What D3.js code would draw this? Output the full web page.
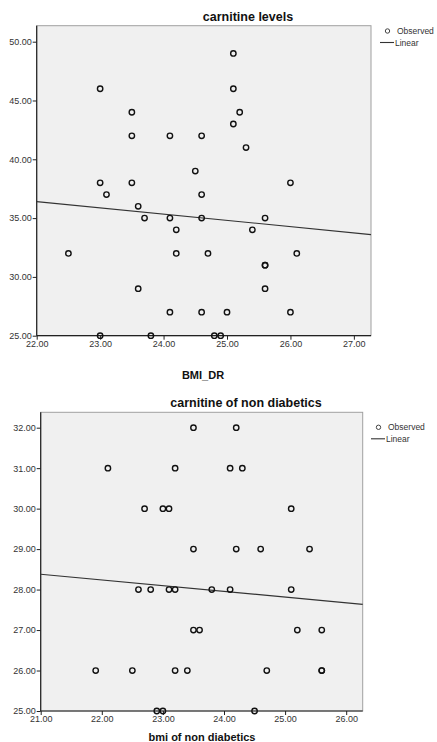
<!DOCTYPE html>
<html>
<head>
<meta charset="utf-8">
<script src="https://cdn.jsdelivr.net/npm/d3@7"></script>
<style>
  body { margin: 0; background: #fff; }
  svg { display: block; font-family: "Liberation Sans", Arial, sans-serif; }
</style>
</head>
<body>
<div id="chart"></div>
<script>
// carnitine levels (BMI_DR)
var bmi_dr = [25.1, 23.0, 25.1, 23.5, 25.2, 25.1, 23.5, 24.1, 24.6, 25.3, 24.5, 23.0, 23.5, 26.0,
              23.1, 24.6, 23.6, 23.7, 24.1, 24.6, 25.6, 24.2, 25.4, 22.5, 24.2, 24.7, 26.1, 25.6,
              25.6, 23.6, 25.6, 24.1, 24.6, 25.0, 26.0, 23.0, 23.8, 24.8, 24.9];
var carnitine_dr = [49, 46, 46, 44, 44, 43, 42, 42, 42, 41, 39, 38, 38, 38,
                    37, 37, 36, 35, 35, 35, 35, 34, 34, 32, 32, 32, 32, 31,
                    31, 29, 29, 27, 27, 27, 27, 25, 25, 25, 25];
var fit_dr = {intercept: 48.13, slope: -0.533};

// carnitine of non diabetics
var bmi_nd = [23.5, 24.2, 22.1, 23.2, 24.1, 24.3, 22.7, 23.0, 23.1, 25.1, 23.5, 24.2, 24.6, 25.4,
              22.6, 22.8, 23.1, 23.2, 23.8, 24.1, 25.1, 23.5, 23.6, 25.2, 25.6, 21.9, 22.5, 23.2,
              23.4, 24.7, 25.6, 25.6, 22.9, 23.0, 24.5];
var carnitine_nd = [32, 32, 31, 31, 31, 31, 30, 30, 30, 30, 29, 29, 29, 29,
                    28, 28, 28, 28, 28, 28, 28, 27, 27, 27, 27, 26, 26, 26,
                    26, 26, 26, 26, 25, 25, 25];
var fit_nd = {intercept: 31.35, slope: -0.1414};

var xticks_dr = [22, 23, 24, 25, 26, 27],
    yticks_dr = [25, 30, 35, 40, 45, 50];
var xticks_nd = [21, 22, 23, 24, 25, 26],
    yticks_nd = [25, 26, 27, 28, 29, 30, 31, 32];

var width = 437, height = 742;

var svg = d3.select("#chart")
  .append("svg")
  .attr("width", width)
  .attr("height", height);

function scatter(opt){
  var x = d3.scaleLinear().domain(opt.xdomain).range([opt.left, opt.right]);
  var y = d3.scaleLinear().domain(opt.ydomain).range([opt.bottom, opt.top]);

  var g = svg.append("g");

  // plot area
  g.append("rect")
    .attr("x", opt.left)
    .attr("y", opt.top)
    .attr("width", opt.right - opt.left)
    .attr("height", opt.bottom - opt.top)
    .attr("fill", "#f0f0f0")
    .attr("stroke", "#a0a0a0")
    .attr("stroke-width", 1);

  // axes
  var xAxis = g.append("g")
    .attr("transform", "translate(0," + opt.bottom + ")")
    .call(d3.axisBottom(x).tickValues(opt.xticks).tickSize(4).tickPadding(1)
      .tickFormat(d3.format(".2f")));
  var yAxis = g.append("g")
    .attr("transform", "translate(" + opt.left + ",0)")
    .call(d3.axisLeft(y).tickValues(opt.yticks).tickSize(4).tickPadding(1)
      .tickFormat(d3.format(".2f")));
  [xAxis, yAxis].forEach(function(a){
    a.select(".domain").attr("stroke", "#222").attr("stroke-width", 1.2);
    a.selectAll(".tick line").attr("stroke", "#222");
    a.selectAll(".tick text")
      .attr("fill", "#333")
      .style("font-size", "9px")
      .style("font-family", "Liberation Sans, Arial, sans-serif");
  });
  // x axis domain goes only across the plot
  xAxis.select(".domain").attr("d", "M" + opt.left + ",0H" + opt.right);
  yAxis.select(".domain").attr("d", "M0," + opt.bottom + "V" + opt.top);

  // fit line, clipped to plot
  var fx = opt.xdomain;
  g.append("line")
    .attr("x1", x(fx[0]))
    .attr("y1", y(opt.fit.intercept + opt.fit.slope * fx[0]))
    .attr("x2", x(fx[1]))
    .attr("y2", y(opt.fit.intercept + opt.fit.slope * fx[1]))
    .attr("stroke", "#333")
    .attr("stroke-width", 1.1);

  // points
  g.selectAll("circle.pt")
    .data(opt.xs)
    .enter()
    .append("circle")
    .attr("class", "pt")
    .attr("cx", function(d){ return x(d); })
    .attr("cy", function(d, i){ return y(opt.ys[i]); })
    .attr("r", 2.7)
    .attr("fill", "none")
    .attr("stroke", "#111")
    .attr("stroke-width", 1.4);

  // titles
  g.append("text")
    .attr("x", opt.titleX)
    .attr("y", opt.titleY)
    .attr("text-anchor", "middle")
    .attr("font-weight", "bold")
    .attr("font-size", "12.5px")
    .attr("fill", "#111")
    .text(opt.title);
  g.append("text")
    .attr("x", opt.xlabelX)
    .attr("y", opt.xlabelY)
    .attr("text-anchor", "middle")
    .attr("font-weight", "bold")
    .attr("font-size", "11px")
    .attr("fill", "#111")
    .text(opt.xlabel);

  // legend
  var lg = g.append("g").attr("transform", "translate(" + opt.legendX + "," + opt.legendY + ")");
  lg.append("circle")
    .attr("cx", 7.5).attr("cy", 0).attr("r", 2.2)
    .attr("fill", "none").attr("stroke", "#444").attr("stroke-width", 1);
  lg.append("text")
    .attr("x", 17).attr("y", 3)
    .attr("font-size", "8.5px").attr("fill", "#333")
    .text("Observed");
  lg.append("line")
    .attr("x1", 0).attr("x2", 14).attr("y1", 11.5).attr("y2", 11.5)
    .attr("stroke", "#333").attr("stroke-width", 1.1);
  lg.append("text")
    .attr("x", 15).attr("y", 14.5)
    .attr("font-size", "8.5px").attr("fill", "#333")
    .text("Linear");
}

scatter({
  xs: bmi_dr, ys: carnitine_dr, fit: fit_dr,
  xdomain: [22, 27.27], ydomain: [25, 51.36],
  xticks: xticks_dr, yticks: yticks_dr,
  left: 36.7, right: 371, top: 25.7, bottom: 335.7,
  title: "carnitine levels", titleX: 248, titleY: 21,
  xlabel: "BMI_DR", xlabelX: 203, xlabelY: 379,
  legendX: 380, legendY: 31
});

scatter({
  xs: bmi_nd, ys: carnitine_nd, fit: fit_nd,
  xdomain: [21, 26.27], ydomain: [25, 32.38],
  xticks: xticks_nd, yticks: yticks_nd,
  left: 40.7, right: 362.7, top: 412.3, bottom: 711,
  title: "carnitine of non diabetics", titleX: 246, titleY: 407,
  xlabel: "bmi of non diabetics", xlabelX: 202, xlabelY: 741,
  legendX: 371, legendY: 427.3
});
</script>
</body>
</html>
